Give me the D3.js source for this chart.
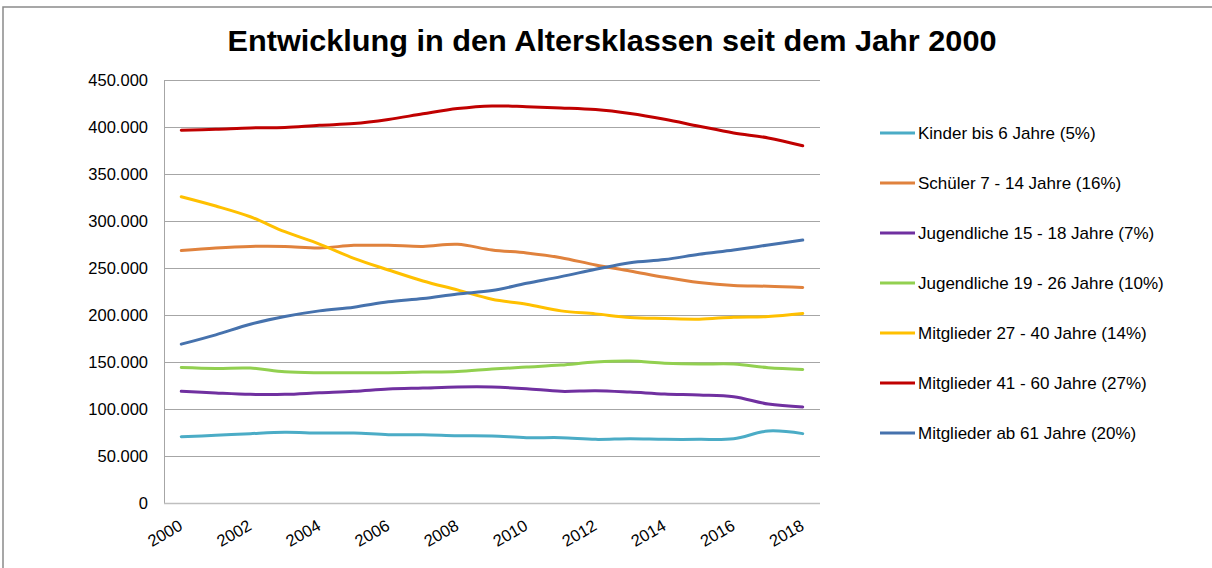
<!DOCTYPE html>
<html>
<head>
<meta charset="utf-8">
<script src="https://cdn.jsdelivr.net/npm/d3@7"></script>
<style>
  body { margin: 0; background: #fff; }
  svg text { font-family: "Liberation Sans", Arial, sans-serif; fill: #000; }
</style>
</head>
<body>
<div id="chart"></div>
<script>
// categories on the x axis
var years = [2000, 2001, 2002, 2003, 2004, 2005, 2006, 2007, 2008, 2009,
             2010, 2011, 2012, 2013, 2014, 2015, 2016, 2017, 2018];

// labelled years (every second one)
var yearLabels = [2000, 2002, 2004, 2006, 2008, 2010, 2012, 2014, 2016, 2018];

// y axis tick values
var yTicks = [0, 50000, 100000, 150000, 200000, 250000, 300000, 350000, 400000, 450000];

// members per age class
var kinder     = [70600, 72000, 73800, 75200, 74500, 74500, 72700, 72700, 71600, 71300,
                  69500, 69500, 67700, 68400, 67700, 67700, 68400, 76600, 73800];
var schueler   = [268500, 271300, 273000, 273000, 271300, 274100, 274100, 273000, 275200, 269200,
                  266000, 261000, 253200, 246900, 240100, 234500, 231300, 230600, 229200];
var jugend1518 = [118800, 117000, 115600, 115600, 117300, 118800, 121200, 122300, 123400, 123400,
                  121600, 118800, 119500, 118000, 115900, 114900, 113100, 105300, 102100];
var jugend1926 = [144200, 143200, 143500, 139600, 138600, 138600, 138600, 139300, 140000, 142500,
                  144600, 146700, 149900, 151000, 148800, 147800, 147800, 143900, 142100];
var mitgl2740  = [325800, 315900, 304500, 288600, 275500, 260300, 247900, 236200, 226700, 216800,
                  211500, 204400, 201200, 197300, 196300, 195600, 197700, 198400, 201600];
var mitgl4160  = [396600, 397600, 399000, 399400, 401900, 403600, 408000, 414000, 419600, 422400,
                  421600, 420300, 418500, 414300, 408200, 400800, 393700, 388400, 380000];
var mitgl61    = [169000, 178900, 190200, 198400, 204400, 208300, 214000, 217500, 222400, 226000,
                  233800, 240800, 248600, 255700, 259000, 264600, 269200, 274500, 279800];

var seriesNames = ['Kinder bis 6 Jahre (5%)', 'Schüler 7 - 14 Jahre (16%)',
                   'Jugendliche 15 - 18 Jahre (7%)', 'Jugendliche 19 - 26 Jahre (10%)',
                   'Mitglieder 27 - 40 Jahre (14%)', 'Mitglieder 41 - 60 Jahre (27%)',
                   'Mitglieder ab 61 Jahre (20%)'];
var seriesValues = [kinder, schueler, jugend1518, jugend1926, mitgl2740, mitgl4160, mitgl61];
var seriesColors = ['#4bacc6', '#e0823d', '#7030a0', '#92d050', '#ffc000', '#c00000', '#4672ad'];

var title = 'Entwicklung in den Altersklassen seit dem Jahr 2000';

// layout
var width = 1212, height = 568;
var plot = { left: 164, right: 820, top: 80, bottom: 503 };

var svg = d3.select('#chart').append('svg')
            .attr('width', width)
            .attr('height', height);

svg.append('rect').attr('width', width).attr('height', height).attr('fill', '#fff');

// chart frame (only the top and left edges are visible)
svg.append('path')
   .attr('d', 'M3,' + height + 'V7H' + width)
   .attr('fill', 'none')
   .attr('stroke', '#8a8a8a')
   .attr('stroke-width', 1.5);

svg.append('text')
   .attr('x', 612)
   .attr('y', 51)
   .attr('text-anchor', 'middle')
   .style('font-size', '30px')
   .style('font-weight', 'bold')
   .attr('textLength', 769)
   .attr('lengthAdjust', 'spacingAndGlyphs')
   .text(title);

var x = d3.scalePoint()
          .domain(years)
          .range([plot.left, plot.right])
          .padding(0.5);

var y = d3.scaleLinear()
          .domain([0, 450000])
          .range([plot.bottom, plot.top]);

var de = d3.formatLocale({ decimal: ',', thousands: '.', grouping: [3], currency: ['', ' €'] });
var fmt = de.format(',');

// horizontal gridlines
svg.append('g')
   .selectAll('line')
   .data(yTicks.filter(function(t) { return t > 0; }))
   .enter().append('line')
   .attr('x1', plot.left)
   .attr('x2', plot.right)
   .attr('y1', function(t) { return Math.round(y(t)) + 0.5; })
   .attr('y2', function(t) { return Math.round(y(t)) + 0.5; })
   .attr('stroke', '#a6a6a6');

// y axis
var yAxis = svg.append('g')
   .attr('transform', 'translate(' + plot.left + ',0)')
   .call(d3.axisLeft(y).tickValues(yTicks).tickFormat(fmt).tickSize(0).tickPadding(16));
yAxis.select('.domain').remove();
yAxis.selectAll('text').style('font-size', '16.5px').attr('fill', '#000');

svg.append('line')
   .attr('x1', plot.left + 0.5).attr('x2', plot.left + 0.5)
   .attr('y1', plot.top).attr('y2', plot.bottom)
   .attr('stroke', '#a6a6a6');
svg.append('line')
   .attr('x1', plot.left).attr('x2', plot.right)
   .attr('y1', plot.bottom + 0.5).attr('y2', plot.bottom + 0.5)
   .attr('stroke', '#bfbfbf')
   .attr('stroke-width', 1.5);

// x axis with rotated labels
var xAxis = svg.append('g')
   .attr('transform', 'translate(0,' + plot.bottom + ')')
   .call(d3.axisBottom(x).tickValues(yearLabels).tickSize(0));
xAxis.select('.domain').remove();
xAxis.selectAll('text')
     .style('font-size', '16.5px')
     .style('text-anchor', 'end')
     .attr('fill', '#000')
     .attr('y', 0)
     .attr('dy', 0)
     .attr('transform', 'translate(2,26) rotate(-30)');

// lines
var line = d3.line()
             .x(function(d, i) { return x(years[i]); })
             .y(function(d) { return y(d); })
             .curve(d3.curveCatmullRom.alpha(0.5));

svg.append('g')
   .selectAll('path')
   .data(seriesValues)
   .enter().append('path')
   .attr('d', line)
   .attr('fill', 'none')
   .attr('stroke', function(d, i) { return seriesColors[i]; })
   .attr('stroke-width', 3)
   .attr('stroke-linecap', 'round')
   .attr('stroke-linejoin', 'round');

// legend
var legend = svg.append('g')
   .selectAll('g')
   .data(seriesNames)
   .enter().append('g')
   .attr('transform', function(d, i) { return 'translate(880,' + (133 + i * 50) + ')'; });

legend.append('line')
      .attr('x1', 0).attr('x2', 35)
      .attr('stroke', function(d, i) { return seriesColors[i]; })
      .attr('stroke-width', 3);

legend.append('text')
      .attr('x', 38)
      .attr('dy', '0.35em')
      .style('font-size', '17px')
      .text(function(d) { return d; });
</script>
</body>
</html>
